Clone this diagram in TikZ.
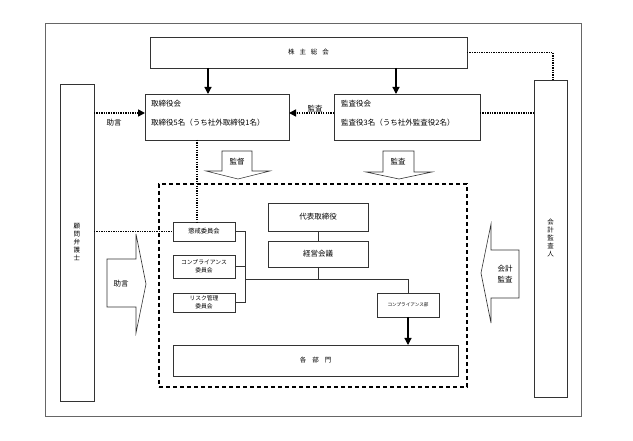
\documentclass[tikz,border=0pt]{standalone}
\usepackage{fontspec}
\newfontfamily\jp{Noto Sans CJK JP}
\usetikzlibrary{arrows.meta,calc}
\begin{document}
\begin{tikzpicture}[x=1pt,y=-1pt,
  box/.style={draw=black!80, line width=0.7pt, inner sep=0pt, outer sep=0pt},
  lbl/.style={font=\jp\fontsize{7.5}{8}\selectfont, inner sep=0pt},
  sml/.style={font=\jp\fontsize{6.3}{8}\selectfont, inner sep=0pt, align=center},
  vtxt/.style={font=\jp\fontsize{6.5}{8}\selectfont, inner sep=0pt, align=center},
  arr/.style={line width=1.2pt, -{Triangle[length=7pt,width=7pt]}},
  dotl/.style={line width=1.6pt, dash pattern=on 1.3pt off 1.1pt},
  dotarr/.style={dotl, -{Triangle[length=7pt,width=7pt]}},
  conn/.style={line width=0.7pt, draw=black!80},
  blk/.style={draw=black!80, line width=0.6pt, fill=white}
]
\useasboundingbox (0,0) rectangle (633,441);
% frame
\node[box, draw=black!60, line width=0.9pt, minimum width=536pt, minimum height=393pt] (frame) at (313,219.5) {};
% main boxes
\node[box, minimum width=317pt, minimum height=31pt, font=\jp\fontsize{6.5}{8}\selectfont] (agm) at (308.5,52.5) {株\hspace{5pt}主\hspace{5pt}総\hspace{5pt}会};
\node[box, minimum width=144pt, minimum height=46pt] (board) at (217,117) {};
\node[box, minimum width=146pt, minimum height=46pt] (kansa) at (407,117) {};
\node[box, minimum width=34pt, minimum height=317pt] (komon) at (77,242.5) {};
\node[box, minimum width=33pt, minimum height=317pt] (auditor) at (550.5,238.5) {};
\node[draw=black, line width=1.2pt, dash pattern=on 4pt off 3pt, inner sep=0pt, minimum width=308pt, minimum height=203pt] (dbox) at (313,285.5) {};
% texts in boxes
\node[lbl, anchor=west] (boardt1) at ([xshift=6pt,yshift=-10pt]board.north west) {取締役会};
\node[lbl, anchor=west] (boardt2) at ([xshift=6pt,yshift=-29pt]board.north west) {取締役5名（うち社外取締役1名）};
\node[lbl, anchor=west] (kansat1) at ([xshift=7pt,yshift=-10pt]kansa.north west) {監査役会};
\node[lbl, anchor=west] (kansat2) at ([xshift=7pt,yshift=-29pt]kansa.north west) {監査役3名（うち社外監査役2名）};
\node[vtxt] (komont) at (komon.center) {顧\\問\\弁\\護\\士};
\node[vtxt] (auditort) at (auditor.center) {会\\計\\監\\査\\人};
% inner boxes
\node[box, lbl, minimum width=100pt, minimum height=28pt] (daihyo) at (318,217) {代表取締役};
\node[box, lbl, minimum width=100pt, minimum height=26pt] (keiei) at (318,254) {経営会議};
\node[box, sml, minimum width=62pt, minimum height=19pt] (choukai) at (204,231.5) {懲戒委員会};
\node[box, sml, font=\jp\fontsize{5.8}{8}\selectfont, minimum width=62pt, minimum height=23pt] (compc) at (204,266.5) {コンプライアンス\\委員会};
\node[box, sml, font=\jp\fontsize{5.8}{8}\selectfont, minimum width=62pt, minimum height=19pt] (risk) at (204,302.5) {リスク管理\\委員会};
\node[box, font=\jp\fontsize{4.6}{6}\selectfont, minimum width=62pt, minimum height=24pt] (compd) at (408,305) {コンプライアンス部};
\node[box, font=\jp\fontsize{6.5}{8}\selectfont, minimum width=285pt, minimum height=31pt] (kakubu) at (315.5,360.5) {各\hspace{6pt}部\hspace{6pt}門};
% solid arrows
\draw[arr] ([xshift=-9pt]board.north |- agm.south) -- ([xshift=-9pt]board.north);
\draw[arr] ([xshift=-11pt]kansa.north |- agm.south) -- ([xshift=-11pt]kansa.north);
\draw[arr] (compd.south) -- (compd.south |- kakubu.north);
% dotted connectors
\coordinate (pb) at ([yshift=4pt]board.west);
\coordinate (pk) at ([yshift=4pt]kansa.west);
\coordinate (pk2) at ([yshift=4pt]kansa.east);
\draw[dotarr] (pb -| komon.east) -- (pb);
\draw[dotarr] (pk) -- (pk -| board.east);
\draw[dotl] (pk2) -- (pk2 -| auditor.west);
\draw[dotl] (agm.east) -| ([xshift=2.5pt]auditor.north);
\draw[dotl] ([xshift=-20pt]board.south) -- ([xshift=-20pt]board.south |- choukai.north);
\draw[dotl] (komon.east |- choukai.west) -- (choukai.west);
% edge labels
\node[lbl] (jogen1) at (114,123) {助言};
\node[lbl] (kansal) at (315,109) {監査};
% organisation lines
\coordinate (bus) at (245,279);
\draw[conn] (daihyo.south) -- (keiei.north);
\draw[conn] (choukai.east) -| (bus |- risk.east) -- (risk.east);
\draw[conn] (compc.east) -- (compc.east -| bus);
\draw[conn] (bus) -| (compd.north);
\draw[conn] (keiei.south) -- (keiei.south |- bus);
% block arrows
\draw[blk] (222,151) -- (252,151) -- (252,171) -- (270,171) -- (238,179) -- (206,171) -- (222,171) -- cycle;
\node[lbl] (kantoku) at (237,162) {監督};
\draw[blk] (383,151) -- (414,151) -- (414,172) -- (432,172) -- (399,179) -- (366,172) -- (383,172) -- cycle;
\node[lbl] (kansab) at (398,162) {監査};
\draw[blk] (107,259) -- (136,259) -- (136,234) -- (146,284) -- (136,333) -- (136,307) -- (107,307) -- cycle;
\node[lbl] (jogen2) at (121,284) {助言};
\draw[blk] (519,250) -- (491,250) -- (491,224) -- (481,273) -- (491,323) -- (491,298) -- (519,298) -- cycle;
\node[lbl, align=center, font=\jp\fontsize{7.5}{11}\selectfont] (kaikei) at (505,274.5) {会計\\監査};
\end{tikzpicture}
\end{document}
